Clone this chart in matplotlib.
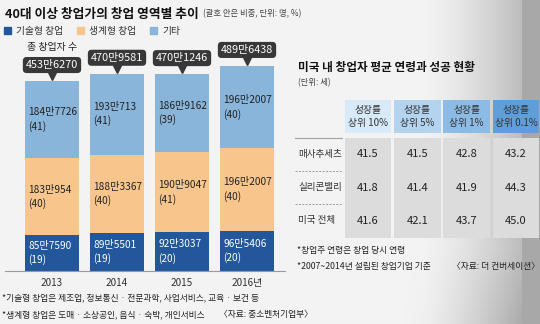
import numpy as np
import matplotlib
matplotlib.use("Agg")
import matplotlib.pyplot as plt
from matplotlib.patches import Rectangle, Patch
from matplotlib.transforms import offset_copy

plt.rcParams['font.family'] = ['Noto Sans CJK KR', 'DejaVu Sans']

# ---- data: founders aged 40+ by type (people) ----
years = ['2013', '2014', '2015', '2016년']
tech = [857590, 895501, 923037, 965406]
living = [1830954, 1883367, 1909047, 1962007]
other = [1847726, 1930713, 1869162, 1962007]
tech_pct = [19, 19, 20, 20]
living_pct = [40, 40, 41, 40]
other_pct = [41, 41, 39, 40]
totals = [4536270, 4709581, 4701246, 4896438]
series_names = ['기술형 창업', '생계형 창업', '기타']

# ---- data: average founder age in the US (years) ----
col_headers = ['성장률\n상위 10%', '성장률\n상위 5%', '성장률\n상위 1%', '성장률\n상위 0.1%']
row_labels = ['매사추세츠', '실리콘밸리', '미국 전체']
massachusetts = [41.5, 41.5, 42.8, 43.2]
silicon_valley = [41.8, 41.4, 41.9, 44.3]
us_total = [41.6, 42.1, 43.7, 45.0]

C_TECH = '#22589b'
C_LIVING = '#f8c68d'
C_OTHER = '#8ab5db'
C_BOX = '#383838'
HEADER_COLORS = ['#d8e9f8', '#b3d3ef', '#8cbce6', '#609ed7']
CELL_GRAY = '#dcdcdc'
TXT = '#222222'

W, H = 540, 324
fig = plt.figure(figsize=(W / 100, H / 100), dpi=100)


def fx(px):
    return px / W


def fy(py):
    return 1 - py / H


# background: plain light panel fading to grey on the right edge
bg = fig.add_axes([0, 0, 1, 1], zorder=-10)
xx = np.arange(W)[None, :].repeat(H, 0).astype(float)
yy = np.arange(H)[:, None].repeat(W, 1).astype(float)
shade = 0.955 - 0.21 * np.clip((xx - 420) / 100, 0, 1) ** 1.4
shade -= 0.07 * np.clip((yy - 250) / 74, 0, 1) * np.clip((xx - 400) / 120, 0, 1)
shade[:, 522:] = 0.66
bg.imshow(np.dstack([shade] * 3), extent=(0, W, H, 0), aspect='auto', interpolation='bilinear')
bg.set_axis_off()

# ---- titles ----
t = fig.text(fx(5), fy(14), '40대 이상 창업가의 창업 영역별 추이', fontsize=9.2,
             fontweight='bold', color='#111111', va='center', ha='left')
fig.canvas.draw()
sub = plt.annotate('(괄호 안은 비중, 단위: 명, %)', xy=(1, 0.5), xycoords=t,
                   xytext=(3, 0), textcoords='offset points', fontsize=6,
                   color='#444444', va='center', ha='left')

# ---- stacked bars ----
ax = fig.add_axes([fx(5), fy(271), fx(285) - fx(5), fy(40) - fy(271)])
ax.set_facecolor('none')
pitch_px = 65.0
x = np.arange(len(years))
ax.set_xlim(-(52 - 5) / pitch_px, (285 - 52) / pitch_px)
ax.set_ylim(0, totals[0] * (271 - 40) / 190)
bw = 54 / pitch_px

b1 = ax.bar(x, tech, bw, color=C_TECH, zorder=2)
b2 = ax.bar(x, living, bw, bottom=tech, color=C_LIVING, zorder=2)
bottoms3 = [a + b for a, b in zip(tech, living)]
b3 = ax.bar(x, other, bw, bottom=bottoms3, color=C_OTHER, zorder=2)


def fmt_man(v):
    return f'{v // 10000}만{v % 10000}'


for i in range(len(years)):
    segs = [(0, tech[i], tech_pct[i], 'white'),
            (tech[i], living[i], living_pct[i], TXT),
            (bottoms3[i], other[i], other_pct[i], TXT)]
    for base, val, pct, col in segs:
        ax.text(i - bw / 2 + 0.05, base + val / 2, f'{fmt_man(val)}\n({pct})',
                fontsize=7.3, color=col, ha='left', va='center', linespacing=1.4, zorder=3)
    # total callout with a small pointer
    ax.plot([i], [totals[i]], marker='v', ms=6, color=C_BOX, transform=offset_copy(
        ax.transData, fig=fig, x=0, y=5, units='dots'), zorder=4, clip_on=False)
    ax.annotate(fmt_man(totals[i]), xy=(i, totals[i]), xytext=(0, 11.5),
                textcoords='offset points', ha='center', va='center', fontsize=7.8,
                color='white', zorder=5,
                bbox=dict(boxstyle='round,pad=0.28,rounding_size=0.35', fc=C_BOX, ec='none'))

fig.text(fx(52), fy(47), '총 창업자 수', fontsize=7.2, color='#222222', ha='center', va='center')

ax.set_xticks(x)
ax.set_xticklabels(years, fontsize=7.2, color='#333333')
ax.tick_params(axis='x', length=0, pad=5)
ax.set_yticks([])
for s in ['top', 'right', 'left']:
    ax.spines[s].set_visible(False)
ax.spines['bottom'].set_color('#9a9a9a')
ax.spines['bottom'].set_linewidth(0.8)

handles = [Patch(color=C_TECH), Patch(color=C_LIVING), Patch(color=C_OTHER)]
fig.legend(handles, series_names, loc='center left', bbox_to_anchor=(fx(4), fy(31)),
           ncol=3, frameon=False, fontsize=7, handlelength=0.75, handleheight=0.75,
           handletextpad=0.5, columnspacing=1.4, borderpad=0, borderaxespad=0,
           labelcolor='#333333')

fig.text(fx(2), fy(298), '*기술형 창업은 제조업, 정보통신 · 전문과학, 사업서비스, 교육 · 보건 등',
         fontsize=6.3, color='#222222', va='center', ha='left')
fig.text(fx(2), fy(315), '*생계형 창업은 도매 · 소상공인, 음식 · 숙박, 개인서비스',
         fontsize=6.3, color='#222222', va='center', ha='left')
fig.text(fx(219), fy(315), '〈자료: 중소벤처기업부〉', fontsize=6.3, color='#222222',
         va='center', ha='left')

# ---- table ----
fig.text(fx(298), fy(67), '미국 내 창업자 평균 연령과 성공 현황', fontsize=8.4,
         fontweight='bold', color='#111111', va='center', ha='left')
fig.text(fx(298), fy(83), '(단위: 세)', fontsize=6, color='#444444', va='center', ha='left')

tx0, tx1, ty0, ty1 = 295, 540, 100, 237.5
tab = fig.add_axes([fx(tx0), fy(ty1), fx(tx1) - fx(tx0), fy(ty0) - fy(ty1)])
tab.set_facecolor('none')
cpitch = 49.3
ccenter0 = 368
rpitch = 33.3
tab.set_xlim((tx0 - ccenter0) / cpitch, (tx1 - ccenter0) / cpitch)
tab.set_ylim(3.0, -(137.5 - ty0) / rpitch)
tab.set_axis_off()

cw = 46.5 / cpitch
hdr_top = tab.get_ylim()[1]
hdr_bot = -4.5 / rpitch
rows = [massachusetts, silicon_valley, us_total]
for j, head in enumerate(col_headers):
    tab.add_patch(Rectangle((j - cw / 2, hdr_top), cw, hdr_bot - hdr_top,
                            fc=HEADER_COLORS[j], ec='none', clip_on=False))
    tab.text(j, (hdr_top + hdr_bot) / 2, head, fontsize=7, color='#333333',
             ha='center', va='center', linespacing=1.3)
    for r, vals in enumerate(rows):
        tab.add_patch(Rectangle((j - cw / 2, r), cw, 1, fc=CELL_GRAY, ec='none', clip_on=False))
        tab.text(j, r + 0.5, f'{vals[j]:.1f}', fontsize=8, color=TXT,
                 ha='center', va='center')

lab_left = (tx0 - ccenter0) / cpitch
lab_right = -0.5 - (3 / cpitch) / 2
for r, name in enumerate(row_labels):
    tab.text(lab_left + 3 / cpitch, r + 0.5, name, fontsize=6.9, color='#333333',
             ha='left', va='center')
tab.plot([lab_left, lab_right], [0, 0], color='#a0a0a0', lw=0.8, clip_on=False)
for r in (1, 2):
    tab.plot([lab_left, lab_right], [r, r], color='#9a9a9a', lw=0.7,
             ls=(0, (2, 1.5)), clip_on=False)

fig.text(fx(297), fy(251), '*창업주 연령은 창업 당시 연령', fontsize=6.3,
         color='#222222', va='center', ha='left')
fig.text(fx(297), fy(267), '*2007~2014년 설립된 창업기업 기준', fontsize=6.3,
         color='#222222', va='center', ha='left')
fig.text(fx(452), fy(267), '〈자료: 더 컨버세이션〉', fontsize=6.3,
         color='#222222', va='center', ha='left')

fig.savefig('out.png', dpi=100)
